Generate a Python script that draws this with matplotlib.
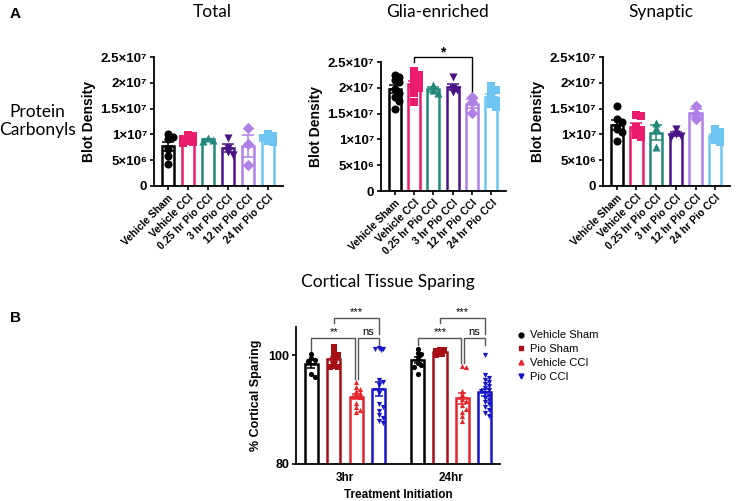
import matplotlib.pyplot as plt
import numpy as np
from matplotlib.lines import Line2D

plt.rcParams['font.family'] = ['Liberation Sans', 'DejaVu Sans']
plt.rcParams['font.weight'] = 'bold'
plt.rcParams['axes.labelweight'] = 'bold'
plt.rcParams['axes.linewidth'] = 1.3

# ---- panel A data (units of 1e7) ----
groups_a = ['Vehicle Sham', 'Vehicle CCI', '0.25 hr Pio CCI', '3 hr Pio CCI',
            '12 hr Pio CCI', '24 hr Pio CCI']
colors_a = ['#000000', '#EC1C6C', '#23897C', '#4A1486', '#B07FE8', '#6CC5F2']
markers_a = ['o', 's', '^', 'v', 'D', 's']

total = [
    [0.95, 1.00, 0.92, 0.72, 0.58, 0.43],
    [0.99, 0.96, 0.92, 0.88, 0.86, 0.83],
    [0.93, 0.90, 0.88],
    [0.93, 0.74, 0.66, 0.60],
    [1.12, 0.82, 0.40],
    [1.00, 0.97, 0.93, 0.88, 0.85],
]
glia = [
    [2.25, 2.20, 2.15, 2.12, 1.97, 1.90, 1.82, 1.75, 1.58],
    [2.32, 2.25, 2.17, 2.13, 2.05, 2.00, 1.90, 1.73],
    [2.05, 1.96, 1.90],
    [2.20, 2.00, 1.95, 1.92],
    [1.83, 1.72, 1.52],
    [2.03, 1.96, 1.88, 1.80, 1.74, 1.68, 1.62],
]
synaptic = [
    [1.55, 1.30, 1.25, 1.05, 1.10, 0.88],
    [1.37, 1.36, 1.15, 1.08, 0.98, 0.94],
    [1.22, 1.12, 0.76],
    [1.10, 1.00, 0.97, 0.95],
    [1.55, 1.40, 1.30],
    [1.10, 1.05, 1.00, 0.95, 0.90, 0.85],
]
ytick_vals = [0, 0.5, 1.0, 1.5, 2.0, 2.5]
ytick_labels = ['0', '5×10⁶', '1×10⁷', '1.5×10⁷', '2×10⁷', '2.5×10⁷']

# ---- panel B data (% cortical sparing) ----
groups_b = ['Vehicle Sham', 'Pio Sham', 'Vehicle CCI', 'Pio CCI']
colors_b = ['#000000', '#A50F15', '#E3262B', '#1515C8']
markers_b = ['o', 's', '^', 'v']
timepoints = ['3hr', '24hr']
sparing = {
    '3hr': [
        [100.3, 99.5, 99.1, 99.0, 96.6, 96.0],
        [101.5, 100.4, 100.0, 99.5, 98.8, 98.1, 97.9, 97.8],
        [95.1, 94.2, 93.8, 93.5, 93.0, 92.8, 92.6, 92.3, 91.3, 90.5, 90.0, 89.5],
        [101.3, 101.2, 101.1, 101.0, 95.5, 95.0, 94.6, 93.0, 91.0, 90.5,
         89.7, 89.0, 88.5, 88.0, 87.6],
    ],
    '24hr': [
        [101.2, 100.4, 100.2, 99.6, 98.5, 98.2, 97.9, 96.5],
        [101.0, 100.9, 100.7, 100.5, 100.4, 100.3, 100.2, 100.1],
        [98.0, 97.8, 93.5, 92.8, 92.0, 91.5, 90.8, 90.2, 89.5, 88.8, 88.0],
        [100.0, 96.3, 95.9, 95.5, 95.1, 94.8, 94.4, 94.0, 93.7, 93.4, 93.0,
         92.6, 92.2, 91.8, 91.4, 91.0, 90.5, 89.9, 89.3, 88.8],
    ],
}


def swarm(vals, step, ytol, maxoff):
    # simple deterministic beeswarm offsets
    order = np.argsort(vals)[::-1]
    placed = []
    offs = np.zeros(len(vals))
    for i in order:
        k = 0
        while True:
            cand = 0 if k == 0 else ((k + 1) // 2) * step * (1 if k % 2 else -1)
            if abs(cand) > maxoff:
                cand = ((k % 5) - 2) * step * 0.5
                break
            if all(abs(cand - o) > step * 0.9 or abs(vals[i] - v) > ytol for o, v in placed):
                break
            k += 1
        offs[i] = cand
        placed.append((cand, vals[i]))
    return offs


def bar_scatter(ax, x, vals, color, marker, width, ms, step, ytol, scale=1.0, lw=1.8,
                cap=4):
    vals = np.asarray(vals) * scale
    mean = vals.mean()
    sem = vals.std(ddof=1) / np.sqrt(len(vals))
    ax.bar(x, mean, width, facecolor='white', edgecolor=color, linewidth=lw, zorder=1)
    offs = swarm(vals, step, ytol * scale, width * 0.5)
    ax.scatter(x + offs, vals, s=ms, marker=marker, color=color, zorder=3, linewidths=0)
    ax.errorbar(x, mean, yerr=sem, color=color, capsize=cap, capthick=1.1,
                elinewidth=1.1, zorder=4)
    ax.plot([x - width * 0.35, x + width * 0.35], [mean, mean], color=color, lw=1.1, zorder=4)


fig = plt.figure(figsize=(7.5, 5.01), dpi=100)
W, H = 750, 501


def px_axes(left, right, top, bottom):
    return fig.add_axes([left / W, 1 - bottom / H, (right - left) / W, (bottom - top) / H])


panels = [
    ('Total', total, (154, 283, 57, 186)),
    ('Glia-enriched', glia, (381, 506, 62, 191)),
    ('Synaptic', synaptic, (603, 730, 57, 186)),
]
xa = np.arange(len(groups_a))
for title, data, box in panels:
    ax = px_axes(*box)
    for i, vals in enumerate(data):
        bar_scatter(ax, xa[i], vals, colors_a[i], markers_a[i], 0.62, 34,
                    0.24, 0.07, scale=1e7)
    ax.set_xlim(-0.7, 5.75)
    ax.set_ylim(0, 2.5e7)
    ax.set_yticks([v * 1e7 for v in ytick_vals])
    ax.set_yticklabels(ytick_labels, fontsize=9.5, fontweight='bold')
    ax.set_xticks(xa)
    ax.set_xticklabels(groups_a, rotation=45, ha='right', rotation_mode='anchor',
                       fontsize=7.5, fontweight='bold')
    ax.tick_params(length=3, width=1.2, pad=2)
    ax.spines[['top', 'right']].set_visible(False)
    ax.set_ylabel('Blot Density', fontsize=10, labelpad=3, fontweight='bold')
    cx = (box[0] + box[1]) / 2 / W
    fig.text(cx - 0.008, 1 - 12 / H, title, ha='center', va='center', fontsize=12.5,
             family='Lato', weight='normal')
    if title == 'Glia-enriched':
        ax.plot([1, 1, 4, 4], [2.5e7, 2.6e7, 2.6e7, 1.86e7], color='black', lw=1,
                clip_on=False)
        ax.text(2.5, 2.68e7, '*', ha='center', va='center', fontsize=10)

fig.text(10 / W, 1 - 14 / H, 'A', fontsize=11, weight='bold', va='center')
fig.text(37 / W, 1 - 121 / H, 'Protein\nCarbonyls', fontsize=12.5, family='Lato',
         weight='normal', ha='center', va='center', linespacing=1.15)

# ---- panel B ----
fig.text(10 / W, 1 - 318 / H, 'B', fontsize=11, weight='bold', va='center')
fig.text(388 / W, 1 - 282 / H, 'Cortical Tissue Sparing', fontsize=12.5,
         family='Lato', weight='normal', ha='center', va='center')

axb = px_axes(296, 500, 327, 464)
d = 0.212
offsets = (np.arange(4) - 1.5) * d
for g, tp in enumerate(timepoints):
    for i, vals in enumerate(sparing[tp]):
        bar_scatter(axb, g + offsets[i], vals, colors_b[i], markers_b[i], 0.123, 14,
                    0.036, 0.6, cap=3)
axb.set_ylim(80, 105.2)
axb.set_xlim(-0.464, 1.46)
axb.set_yticks([80, 100])
axb.set_yticklabels(['80', '100'], fontsize=9, fontweight='bold')
axb.set_xticks([0, 1])
axb.set_xticklabels(timepoints, fontsize=8.5, fontweight='bold')
axb.tick_params(axis='x', length=0, pad=6)
axb.tick_params(axis='y', length=3, width=1.2, pad=2)
axb.spines[['top', 'right']].set_visible(False)
axb.set_ylabel('% Cortical Sparing', fontsize=9, labelpad=4, fontweight='bold')
axb.set_xlabel('Treatment Initiation', fontsize=8.5, labelpad=3, fontweight='bold')

bk = dict(color='#555555', lw=1, clip_on=False)
for g, lab, lo_right in [(0, '**', 95.6), (1, '***', 98.6)]:
    x0, x1, x2, x3 = g + offsets
    lo_left = 100.6 if g == 0 else 101.8
    axb.plot([x0, x0, x2 - 0.014, x2 - 0.014], [lo_left, 103.2, 103.2, lo_right], **bk)
    axb.text((x0 + x2) / 2, 104.2, lab, ha='center', va='center', fontsize=8,
             weight='normal')
    axb.plot([x2 + 0.014, x2 + 0.014, x3, x3], [lo_right, 103.2, 103.2, 101.9], **bk)
    axb.text((x2 + x3) / 2 + 0.007, 104.3, 'ns', ha='center', va='center', fontsize=8,
             weight='normal')
    axb.plot([x1, x1, x3, x3], [105.9, 106.8, 106.8, 104.0], **bk)
    axb.text((x1 + x3) / 2, 107.9, '***', ha='center', va='center', fontsize=8,
             weight='normal')

handles = [Line2D([], [], ls='none', marker=m, color=c, markersize=3.5)
           for m, c in zip(markers_b, colors_b)]
fig.legend(handles, groups_b, loc='upper left', bbox_to_anchor=(510 / W, 1 - 326 / H),
           frameon=False, prop={'size': 8, 'weight': 'normal'}, handletextpad=0.2,
           labelspacing=0.35, handlelength=1.2, borderaxespad=0)

fig.savefig('out.png', dpi=100)
